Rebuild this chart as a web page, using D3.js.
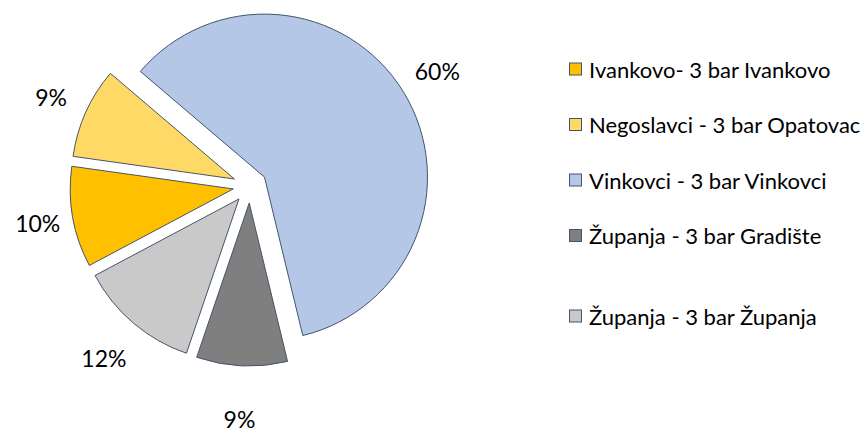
<!DOCTYPE html>
<html>
<head>
<meta charset="utf-8">
<script src="https://cdn.jsdelivr.net/npm/d3@7"></script>
<style>
  body { margin: 0; background: #fff; }
  svg { font-family: Lato, "Open Sans", sans-serif; }
</style>
</head>
<body>
<div id="container"></div>
<script>
/* DATA */
const categories = [
  "Ivankovo- 3 bar Ivankovo",
  "Negoslavci - 3 bar Opatovac",
  "Vinkovci - 3 bar Vinkovci",
  "Županja - 3 bar Gradište",
  "Županja - 3 bar Županja"
];
const shares = [10, 9, 60, 9, 12];
const colors = ["#FFC000", "#FFD966", "#B4C7E7", "#7F7F7F", "#C9C9C9"];

/* CONSTANTS */
const width = 860,
  height = 432,
  center = { x: 250, y: 186 },
  radius = 163,
  explode = 17,
  labelRadius = 215,
  firstAngle = 242 * Math.PI / 180;

const data = categories.map((c, i) => ({ name: c, value: shares[i], color: colors[i] }));

const svg = d3.select("#container")
  .append("svg")
  .attr("width", width)
  .attr("height", height);

// + PIE
const pie = d3.pie()
  .sort(null)
  .value(d => d.value)
  .startAngle(firstAngle)
  .endAngle(firstAngle + 2 * Math.PI);

const arcGen = d3.arc().innerRadius(0).outerRadius(radius);

const slices = pie(data);

const pieGroup = svg.append("g")
  .attr("transform", `translate(${center.x}, ${center.y})`);

const midAngle = d => (d.startAngle + d.endAngle) / 2;

// push each slice out along its middle angle
const offset = d => {
  const mid = midAngle(d);
  return [Math.sin(mid) * explode, -Math.cos(mid) * explode];
};

// labels sitting above/below the pie need a bit more room (text height)
const labelPos = d => {
  const mid = midAngle(d);
  const r = labelRadius + 18 * Math.cos(mid) ** 2;
  return d3.arc().innerRadius(r).outerRadius(r).centroid(d);
};

pieGroup.selectAll("path.slice")
  .data(slices)
  .join("path")
  .attr("class", "slice")
  .attr("d", arcGen)
  .attr("transform", d => `translate(${offset(d)})`)
  .attr("fill", d => d.data.color)
  .attr("stroke", "#44546A")
  .attr("stroke-width", 1)
  .attr("stroke-linejoin", "round");

pieGroup.selectAll("text.pct")
  .data(slices)
  .join("text")
  .attr("class", "pct")
  .attr("x", d => labelPos(d)[0])
  .attr("y", d => labelPos(d)[1])
  .attr("text-anchor", "middle")
  .attr("dominant-baseline", "central")
  .attr("font-size", 23)
  .attr("fill", "#000")
  .text(d => d.data.value + "%");

// + LEGEND
const legendY = d3.scalePoint()
  .domain(categories)
  .range([69, 316]);
// the reference leaves an extra gap before the last entry
const rowY = (d, i) => i < 4 ? 69 + i * 55.5 : legendY(d);

const legend = svg.append("g").attr("class", "legend");

const rows = legend.selectAll("g")
  .data(data)
  .join("g")
  .attr("transform", (d, i) => `translate(569, ${rowY(d.name, i)})`);

rows.append("rect")
  .attr("x", 0.5)
  .attr("y", -6)
  .attr("width", 12)
  .attr("height", 12)
  .attr("fill", d => d.color)
  .attr("stroke", "#44546A")
  .attr("stroke-width", 1);

rows.append("text")
  .attr("x", 20)
  .attr("y", 0)
  .attr("dominant-baseline", "central")
  .attr("font-size", 22)
  .attr("fill", "#000")
  .text(d => d.name);
</script>
</body>
</html>
